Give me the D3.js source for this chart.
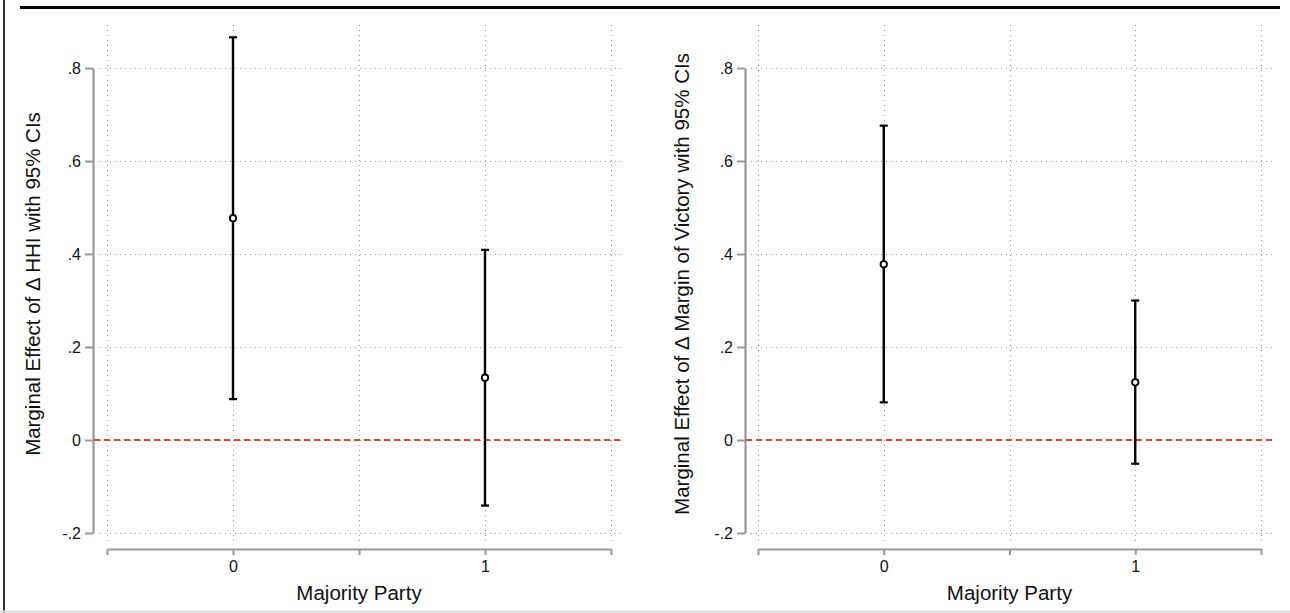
<!DOCTYPE html>
<html>
<head>
<meta charset="utf-8">
<script src="https://cdn.jsdelivr.net/npm/d3@7"></script>
<style>
  html, body { margin: 0; padding: 0; background: #fff; }
  svg { display: block; }
  text { font-family: "Liberation Sans", Arial, Helvetica, sans-serif; fill: #111; }
</style>
</head>
<body>
<svg id="chart" width="1290" height="613"></svg>
<script>
// ---- data ----
const categories = [0, 1];
const xTickValues = [-0.5, 0, 0.5, 1, 1.5];
const xTickLabels = ["", "0", "", "1", ""];
const yTickValues = [-0.2, 0, 0.2, 0.4, 0.6, 0.8];
const yTickLabels = ["-.2", "0", ".2", ".4", ".6", ".8"];

const hhiEst = [0.477, 0.134];
const hhiLo  = [0.088, -0.141];
const hhiHi  = [0.866, 0.409];

const movEst = [0.378, 0.124];
const movLo  = [0.081, -0.051];
const movHi  = [0.676, 0.300];

const xTitle = "Majority Party";
const yTitleLeft = "Marginal Effect of \u0394 HHI with 95% CIs";
const yTitleRight = "Marginal Effect of \u0394 Margin of Victory with 95% CIs";

// ---- drawing ----
const svg = d3.select("#chart");

// frame
svg.append("line").attr("x1", 4).attr("x2", 4).attr("y1", 0).attr("y2", 613)
  .attr("stroke", "#333").attr("stroke-width", 2);
svg.append("line").attr("x1", 20).attr("x2", 1280).attr("y1", 7.5).attr("y2", 7.5)
  .attr("stroke", "#000").attr("stroke-width", 3);
svg.append("line").attr("x1", 0).attr("x2", 1290).attr("y1", 611.5).attr("y2", 611.5)
  .attr("stroke", "#dcdcdc").attr("stroke-width", 2);

const y = d3.scaleLinear().domain([-0.2, 0.8]).range([533, 68]);
const plotTop = 25, plotBottom = 543;

function panel(opts) {
  const { axisX, xRange, gridL, gridR, est, lo, hi, title, titleX } = opts;
  const x = d3.scaleLinear().domain([-0.5, 1.5]).range(xRange);
  const g = svg.append("g");

  // grid
  g.selectAll(".hg").data(yTickValues).join("line")
    .attr("x1", gridL).attr("x2", gridR)
    .attr("y1", d => Math.round(y(d)) + 0.5).attr("y2", d => Math.round(y(d)) + 0.5)
    .attr("stroke", "#9a9a9a").attr("stroke-width", 1).attr("stroke-dasharray", "1,4");
  g.selectAll(".vg").data(xTickValues).join("line")
    .attr("x1", d => Math.round(x(d)) + 0.5).attr("x2", d => Math.round(x(d)) + 0.5)
    .attr("y1", plotTop).attr("y2", plotBottom)
    .attr("stroke", "#9a9a9a").attr("stroke-width", 1).attr("stroke-dasharray", "1,4");

  // y axis
  const yAxis = d3.axisLeft(y).tickValues(yTickValues)
    .tickFormat((d, i) => yTickLabels[i]).tickSize(8).tickPadding(4).tickSizeOuter(0);
  const ya = g.append("g").attr("transform", `translate(${axisX},0)`).call(yAxis);
  ya.select(".domain").attr("stroke", "#999").attr("stroke-width", 2.2);
  ya.selectAll(".tick line").attr("stroke", "#999").attr("stroke-width", 2);
  ya.selectAll(".tick text").attr("font-size", 16).attr("fill", "#111")
    .style("font-family", "'Liberation Sans', Arial, sans-serif");

  // x axis
  const xAxis = d3.axisBottom(x).tickValues(xTickValues)
    .tickFormat((d, i) => xTickLabels[i]).tickSize(6).tickPadding(6).tickSizeOuter(0);
  const xa = g.append("g").attr("transform", `translate(0,549)`).call(xAxis);
  xa.select(".domain").attr("stroke", "#999").attr("stroke-width", 2.2);
  xa.selectAll(".tick line").attr("stroke", "#999").attr("stroke-width", 2);
  xa.selectAll(".tick text").attr("font-size", 16).attr("fill", "#111")
    .style("font-family", "'Liberation Sans', Arial, sans-serif");

  // zero reference line
  g.append("line").attr("x1", axisX + 1).attr("x2", gridR)
    .attr("y1", y(0)).attr("y2", y(0))
    .attr("stroke", "#ea4326").attr("stroke-width", 2).attr("stroke-dasharray", "6,4");

  // error bars
  const capW = 4;
  g.selectAll(".eb").data(categories).join("line")
    .attr("x1", d => x(d)).attr("x2", d => x(d))
    .attr("y1", (d, i) => y(lo[i])).attr("y2", (d, i) => y(hi[i]))
    .attr("stroke", "#000").attr("stroke-width", 2.4);
  g.selectAll(".capH").data(categories).join("line")
    .attr("x1", d => x(d) - capW).attr("x2", d => x(d) + capW)
    .attr("y1", (d, i) => y(hi[i])).attr("y2", (d, i) => y(hi[i]))
    .attr("stroke", "#000").attr("stroke-width", 2.2);
  g.selectAll(".capL").data(categories).join("line")
    .attr("x1", d => x(d) - capW).attr("x2", d => x(d) + capW)
    .attr("y1", (d, i) => y(lo[i])).attr("y2", (d, i) => y(lo[i]))
    .attr("stroke", "#000").attr("stroke-width", 2.2);
  g.selectAll(".pt").data(categories).join("circle")
    .attr("cx", d => x(d)).attr("cy", (d, i) => y(est[i]))
    .attr("r", 3.2).attr("fill", "#fff").attr("stroke", "#000").attr("stroke-width", 1.8);

  // titles
  g.append("text").attr("x", (xRange[0] + xRange[1]) / 2).attr("y", 600)
    .attr("text-anchor", "middle").attr("font-size", 20.5).text(xTitle);
  g.append("text")
    .attr("transform", `translate(${titleX},${(plotTop + plotBottom) / 2}) rotate(-90)`)
    .attr("text-anchor", "middle").attr("font-size", 20.5).text(title);
}

panel({ axisX: 93, xRange: [107, 611], gridL: 100, gridR: 622,
        est: hhiEst, lo: hhiLo, hi: hhiHi, title: yTitleLeft, titleX: 40 });
panel({ axisX: 745, xRange: [758, 1261], gridL: 751, gridR: 1272,
        est: movEst, lo: movLo, hi: movHi, title: yTitleRight, titleX: 689 });
</script>
</body>
</html>
